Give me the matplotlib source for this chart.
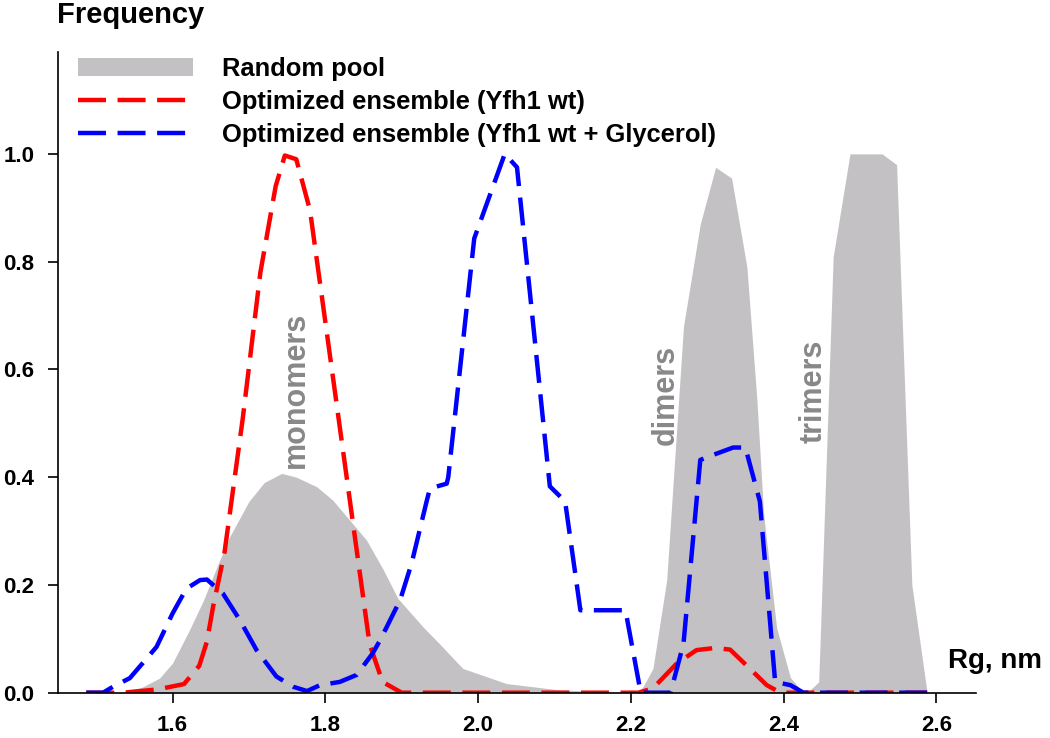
import matplotlib.pyplot as plt

# random pool (gray area)
pool_rg = [1.50, 1.53, 1.56, 1.583, 1.60, 1.622, 1.64, 1.66, 1.675, 1.70, 1.72, 1.743,
           1.762, 1.789, 1.81, 1.832, 1.854, 1.876, 1.895, 1.928, 1.95, 1.98, 2.037,
           2.107, 2.208, 2.216, 2.229, 2.247, 2.269, 2.291, 2.311, 2.332, 2.352, 2.365,
           2.374, 2.391, 2.409, 2.426, 2.431, 2.446, 2.448, 2.465, 2.487, 2.529, 2.548,
           2.568, 2.588]
pool_freq = [0.0, 0.0, 0.01, 0.027, 0.055, 0.116, 0.17, 0.24, 0.29, 0.355, 0.39, 0.407,
             0.40, 0.382, 0.357, 0.32, 0.283, 0.228, 0.175, 0.122, 0.09, 0.045, 0.017,
             0.005, 0.0, 0.011, 0.045, 0.209, 0.68, 0.87, 0.975, 0.955, 0.79, 0.546,
             0.33, 0.12, 0.028, 0.0, 0.0, 0.02, 0.099, 0.809, 1.0, 1.0, 0.98,
             0.2, 0.0]

# optimized ensemble, Yfh1 wt
wt_rg = [1.487, 1.535, 1.58, 1.615, 1.635, 1.645, 1.653, 1.668, 1.692, 1.715, 1.735, 1.747,
         1.762, 1.78, 1.858, 1.875, 1.90, 2.21, 2.229, 2.26, 2.286, 2.31, 2.33, 2.352,
         2.378, 2.396, 2.588]
wt_freq = [0.0, 0.0, 0.006, 0.016, 0.05, 0.095, 0.159, 0.26, 0.51, 0.78, 0.94, 0.997,
           0.99, 0.895, 0.09, 0.02, 0.0, 0.0, 0.008, 0.054, 0.079, 0.083, 0.08, 0.05,
           0.014, 0.0, 0.0]

# optimized ensemble, Yfh1 wt + glycerol
gly_rg = [1.487, 1.509, 1.522, 1.544, 1.561, 1.579, 1.60, 1.618, 1.636, 1.645, 1.666,
          1.688, 1.71, 1.736, 1.758, 1.776, 1.793, 1.819, 1.841, 1.862, 1.872, 1.898,
          1.913, 1.933, 1.937, 1.959, 1.961, 1.995, 2.035, 2.051, 2.094, 2.114, 2.134,
          2.193, 2.213, 2.252, 2.269, 2.291, 2.313, 2.334, 2.35, 2.369, 2.389, 2.409,
          2.426, 2.588]
gly_freq = [0.0, 0.0, 0.011, 0.027, 0.055, 0.085, 0.147, 0.193, 0.209, 0.21, 0.184,
            0.135, 0.079, 0.03, 0.011, 0.003, 0.014, 0.02, 0.033, 0.073, 0.098, 0.172,
            0.24, 0.357, 0.379, 0.388, 0.40, 0.843, 1.0, 0.975, 0.383, 0.355, 0.153,
            0.153, 0.0, 0.0, 0.091, 0.432, 0.444, 0.455, 0.455, 0.355, 0.02, 0.014,
            0.0, 0.0]

x_ticks = [1.6, 1.8, 2.0, 2.2, 2.4, 2.6]
y_ticks = [0.0, 0.2, 0.4, 0.6, 0.8, 1.0]

plt.rcParams["font.family"] = ["Liberation Sans", "DejaVu Sans"]
plt.rcParams["font.weight"] = "bold"

fig = plt.figure(figsize=(10.5, 7.38), dpi=100)
ax = fig.add_axes([58 / 1050, 0.0614, 918 / 1050, 0.8681])

ax.fill_between(pool_rg, pool_freq, color="#c3c1c4", lw=0, label="Random pool")
ax.plot(wt_rg, wt_freq, color="#ff0000", lw=3.2, dashes=(6.3, 2.6),
        label="Optimized ensemble (Yfh1 wt)")
ax.plot(gly_rg, gly_freq, color="#0000ff", lw=3.2, dashes=(6.3, 2.6),
        label="Optimized ensemble (Yfh1 wt + Glycerol)")

ax.set_xlim(1.45, 2.652)
ax.set_ylim(0, 1.189)
ax.set_xticks(x_ticks)
ax.set_yticks(y_ticks)
ax.set_xticklabels([f"{t:.1f}" for t in x_ticks], fontsize=16, fontweight="bold")
ax.set_yticklabels([f"{t:.1f}" for t in y_ticks], fontsize=16, fontweight="bold")
ax.tick_params(direction="out", length=7, width=1.2)
ax.tick_params(axis="x", pad=9)
ax.tick_params(axis="y", pad=10)

for side in ["top", "right"]:
    ax.spines[side].set_visible(False)
for side in ["left", "bottom"]:
    ax.spines[side].set_linewidth(1.2)

for label, x, y in [("monomers", 1.762, 0.562), ("dimers", 2.246, 0.552), ("trimers", 2.44, 0.56)]:
    ax.text(x, y, label, rotation=90, color="#888888", fontsize=22, fontweight="bold",
            ha="center", va="center")

fig.text(57 / 1050, 1 - 15 / 738, "Frequency", fontsize=21, fontweight="bold",
         ha="left", va="center")
fig.text(948 / 1050, 1 - 661 / 738, "Rg, nm", fontsize=20, fontweight="bold",
         ha="left", va="center")

leg = ax.legend(loc="upper left", bbox_to_anchor=(78 / 1050, 1 - 57 / 738),
                bbox_transform=fig.transFigure, frameon=False, fontsize=18.4,
                borderaxespad=0, borderpad=0, handlelength=4.5, handleheight=0.75,
                handletextpad=1.15, labelspacing=0.36)

fig.savefig("out.png", dpi=100)
